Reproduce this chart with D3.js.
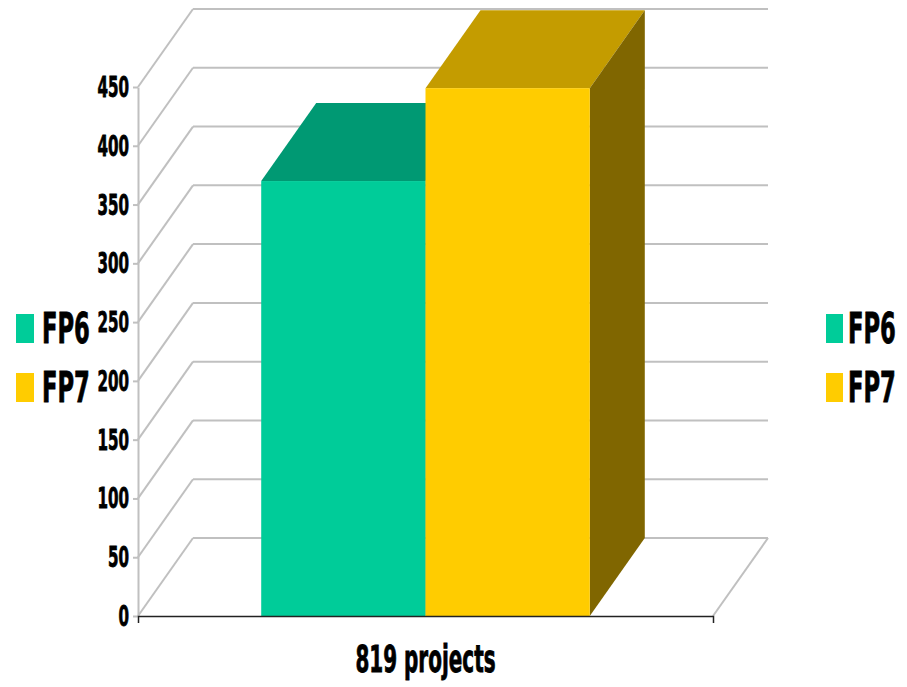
<!DOCTYPE html>
<html>
<head>
<meta charset="utf-8">
<script src="https://d3js.org/d3.v7.min.js"></script>
<style>
  body { margin: 0; background: #fff; }
  text { font-family: "DejaVu Sans Condensed", "DejaVu Sans", sans-serif; font-weight: bold; fill: #000; stroke: #000; stroke-width: 0.8px; }
</style>
</head>
<body>
<svg id="chart" width="907" height="687"></svg>
<script>
// data
const category = "819 projects";
const series = ["FP6", "FP7"];
const values = [370, 449];
const yTickValues = [0, 50, 100, 150, 200, 250, 300, 350, 400, 450];
const frontColors = ["#00CC99", "#FFCC00"];
const topColors = ["#009973", "#C49C00"];
const sideColors = ["#006B50", "#806600"];

let svg = d3.select("svg#chart");

// front plane and depth offset of the 3d box
let plot = {"left": 138, "right": 713, "top": 87, "bottom": 616};
let depth = {"dx": 55, "dy": -78};

let yScale = d3.scaleLinear().domain([0, 450]).range([plot.bottom, plot.top]);
let xScale = d3.scaleBand().domain(series).range([plot.left, plot.right])
    .paddingInner(0).paddingOuter(0.75);

const gridColor = "#C0C0C0";
const sx = 0.6; // squeeze text horizontally, the original font is very narrow

function pts(arr) { return arr.map(p => p.join(",")).join(" "); }

//back wall gridlines
yTickValues.forEach(function(v){
    svg.append("line")
        .attr("x1", plot.left + depth.dx)
        .attr("x2", plot.right + depth.dx)
        .attr("y1", yScale(v) + depth.dy)
        .attr("y2", yScale(v) + depth.dy)
        .style("stroke", gridColor)
        .style("stroke-width", 2);
});

//left wall diagonals
yTickValues.forEach(function(v){
    svg.append("line")
        .attr("x1", plot.left)
        .attr("x2", plot.left + depth.dx)
        .attr("y1", yScale(v))
        .attr("y2", yScale(v) + depth.dy)
        .style("stroke", gridColor)
        .style("stroke-width", 2);
});

//floor right edge
svg.append("line")
    .attr("x1", plot.right)
    .attr("x2", plot.right + depth.dx)
    .attr("y1", yScale(0))
    .attr("y2", yScale(0) + depth.dy)
    .style("stroke", gridColor)
    .style("stroke-width", 2);

//y axis
let yAxis = d3.axisLeft(yScale).tickValues(yTickValues).tickSize(5).tickSizeOuter(0).tickFormat("");
let yg = svg.append("g")
    .attr("transform", "translate(" + plot.left + ",0)")
    .call(yAxis);
yg.select(".domain").style("stroke", gridColor).style("stroke-width", 2);
yg.selectAll(".tick line").style("stroke", gridColor).style("stroke-width", 2);

//tick labels
yTickValues.forEach(function(v){
    svg.append("text")
        .attr("transform", "translate(129," + (yScale(v) + 10) + ") scale(" + sx + ",1)")
        .attr("text-anchor", "end")
        .style("font-size", "28px")
        .text(v);
});

//bars
series.forEach(function(s, i){
    let x0 = xScale(s);
    let x1 = x0 + xScale.bandwidth();
    let yt = yScale(values[i]);
    let yb = yScale(0);
    // top face
    svg.append("polygon")
        .attr("points", pts([[x0, yt], [x1, yt], [x1 + depth.dx, yt + depth.dy], [x0 + depth.dx, yt + depth.dy]]))
        .style("fill", topColors[i]);
    // side face
    svg.append("polygon")
        .attr("points", pts([[x1, yt], [x1 + depth.dx, yt + depth.dy], [x1 + depth.dx, yb + depth.dy], [x1, yb]]))
        .style("fill", sideColors[i]);
    // front face
    svg.append("rect")
        .attr("x", x0)
        .attr("y", yt)
        .attr("width", xScale.bandwidth())
        .attr("height", yb - yt)
        .style("fill", frontColors[i]);
});

//x axis
let xAxis = d3.axisBottom(d3.scaleBand().domain([category]).range([plot.left, plot.right]))
    .tickSize(0).tickSizeOuter(7).tickFormat("");
let xg = svg.append("g")
    .attr("transform", "translate(0," + plot.bottom + ")")
    .call(xAxis);
xg.select(".domain").style("stroke", "#222").style("stroke-width", 1.5);

svg.append("text")
    .attr("transform", "translate(" + ((plot.left + plot.right) / 2) + ",672) scale(" + sx + ",1)")
    .attr("text-anchor", "middle")
    .style("font-size", "37px")
    .text(category);

//legends, one on each side
[{"box": 16, "w": 18, "label": 42}, {"box": 826, "w": 17, "label": 848}].forEach(function(L){
    series.forEach(function(s, i){
        let y = 314 + i * 59;
        svg.append("rect")
            .attr("x", L.box)
            .attr("y", y)
            .attr("width", L.w)
            .attr("height", 29)
            .style("fill", frontColors[i]);
        svg.append("text")
            .attr("transform", "translate(" + L.label + "," + (y + 29) + ") scale(" + sx + ",1)")
            .style("font-size", "42px")
            .text(s);
    });
});
</script>
</body>
</html>
